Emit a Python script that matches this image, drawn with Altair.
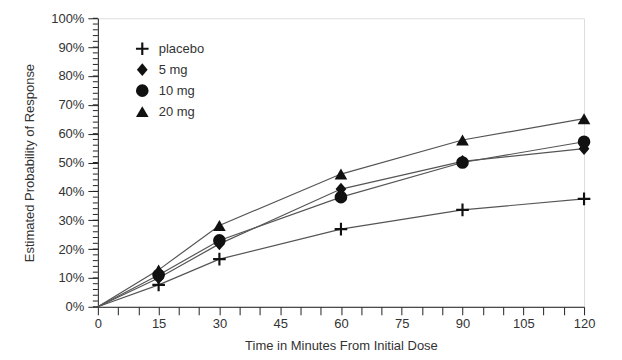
import altair as alt
import pandas as pd

times = [0, 15, 30, 60, 90, 120]
groups = ["placebo", "5 mg", "10 mg", "20 mg"]
placebo = [0, 7.6, 16.5, 26.9, 33.6, 37.4]
mg5 = [0, 10.0, 21.8, 40.8, 50.4, 54.8]
mg10 = [0, 11.0, 23.0, 38.0, 50.0, 57.2]
mg20 = [0, 12.8, 28.2, 46.0, 57.8, 65.2]

x_ticks = list(range(0, 121, 5))
y_minor = list(range(0, 101, 2))

rows = []
for g, vals in zip(groups, [placebo, mg5, mg10, mg20]):
    for t, v in zip(times, vals):
        rows.append({"time": t, "value": v, "group": g})
df = pd.DataFrame(rows)
minor_df = pd.DataFrame({"v": y_minor})

FONT = "Liberation Sans"
TXT = "#333333"

plus_path = "M-1,-0.17H1V0.17H-1Z M-0.17,-1H0.17V1H-0.17Z"
diamond_path = "M0,-1L0.85,0L0,1L-0.85,0Z"

xscale = alt.Scale(domain=[0, 120], nice=False, zero=True)
yscale = alt.Scale(domain=[0, 100], nice=False)

xaxis = alt.Axis(
    values=x_ticks,
    labelExpr="datum.value % 15 == 0 ? datum.value : ''",
    labelOverlap=False, labelFlush=False,
    title="Time in Minutes From Initial Dose",
    tickSize=8, tickColor="#222", domainColor="#222",
    labelFont=FONT, labelFontSize=13, labelColor=TXT, labelPadding=3,
    titleFont=FONT, titleFontSize=13, titleColor=TXT, titleFontWeight="normal",
    titlePadding=9, grid=False,
)
yaxis = alt.Axis(
    values=list(range(0, 101, 10)),
    labelExpr="datum.value + '%'",
    labelOverlap=False, labelFlush=False,
    title="Estimated Probability of Response",
    tickSize=10, tickColor="#222", domainColor="#222",
    labelFont=FONT, labelFontSize=13, labelColor=TXT, labelPadding=4,
    titleFont=FONT, titleFontSize=13, titleColor=TXT, titleFontWeight="normal",
    titlePadding=14, grid=False,
)

base = alt.Chart(df)

lines = base.mark_line(color="#555555", strokeWidth=1.2).encode(
    x=alt.X("time:Q", scale=xscale, axis=xaxis),
    y=alt.Y("value:Q", scale=yscale, axis=yaxis),
    detail="group:N",
)

points = base.transform_filter("datum.time > 0").mark_point(
    filled=True, color="#111111", opacity=1
).encode(
    x=alt.X("time:Q", scale=xscale, axis=xaxis),
    y=alt.Y("value:Q", scale=yscale, axis=yaxis),
    shape=alt.Shape(
        "group:N",
        scale=alt.Scale(domain=groups, range=[plus_path, diamond_path, "circle", "triangle-up"]),
        legend=alt.Legend(
            title=None, orient="none", legendX=38, legendY=24,
            labelFont=FONT, labelFontSize=13, labelColor=TXT,
            symbolSize=160, symbolFillColor="#111111", symbolStrokeWidth=0,
            labelOffset=10, rowPadding=7, padding=0,
        ),
    ),
    size=alt.value(160),
)

minor = alt.Chart(minor_df).mark_rule(color="#222", strokeWidth=1).encode(
    y=alt.Y("v:Q", scale=yscale, axis=yaxis),
    x=alt.value(-5),
    x2=alt.value(0),
)

chart = alt.layer(lines, points, minor).properties(
    width=487, height=289,
    autosize=alt.AutoSizeParams(type="none"),
    padding={"left": 90, "top": 10, "right": 30, "bottom": 45},
).configure_view(stroke=None).configure(background="white")

chart.save("out.html", embed_options={"renderer": "svg", "actions": False})
